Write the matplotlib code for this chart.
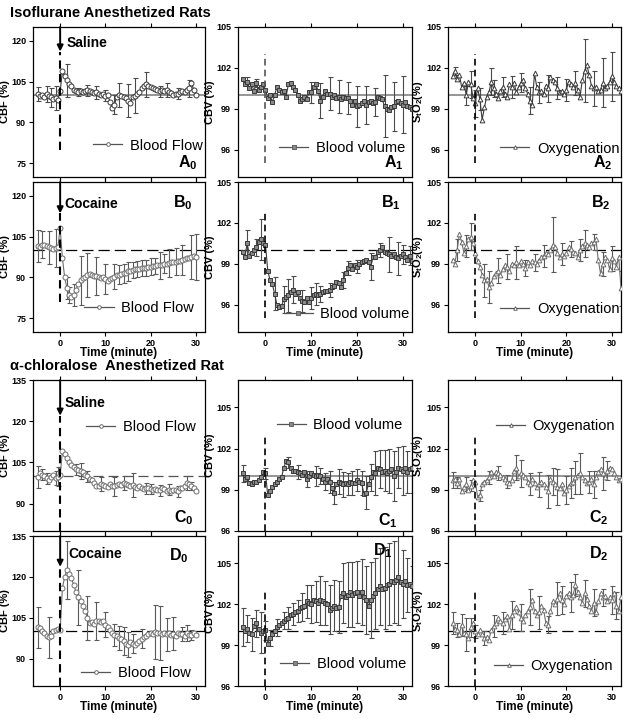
import numpy as np
import matplotlib
matplotlib.use("Agg")
import matplotlib.pyplot as plt
from matplotlib.lines import Line2D

plt.rcParams['font.family'] = ['Liberation Sans', 'DejaVu Sans']
plt.rcParams['mathtext.fontset'] = 'custom'
plt.rcParams['mathtext.rm'] = 'Liberation Sans'
plt.rcParams['mathtext.bf'] = 'Liberation Sans:bold'
plt.rcParams['mathtext.it'] = 'Liberation Sans:italic'

# ---------------- time axes (minutes) ----------------
t_cbf = np.arange(-5, 30.01, 0.5)      # CBF panels
t_opt = np.arange(-5, 32.01, 0.5)      # CBV / StO2 panels

# ---------------- Isoflurane, saline ----------------
A0 = [100.5, 99.8, 100.2, 99.5, 100.5, 99.6, 99.2, 98.6, 99.0, 98.4,
      101.5, 108.8, 107.0, 105.5, 104.2, 103.2, 102.0, 101.5, 101.3, 101.6,
      101.2, 101.5, 101.8, 101.4, 101.0, 100.8, 101.0, 100.5, 100.0, 100.4,
      99.8, 100.2, 97.5, 95.2, 96.5, 99.5, 100.0, 99.8, 99.5, 98.8,
      98.0, 97.0, 99.5, 99.8, 100.5, 101.0, 102.5, 103.5, 104.0, 103.5,
      103.0, 102.6, 102.3, 102.0, 101.5, 102.0, 101.5, 101.8, 101.0, 100.8,
      100.0, 100.4, 100.5, 101.0, 101.5, 101.2, 102.0, 102.5, 104.5, 102.0,
      100.2]
A0_et = [-5, -3, -2, -1, 1.5, 4, 6, 8, 10, 12, 13, 15, 16.5, 19, 22, 23.5, 26, 28.5]
A0_e = [2.5, 3, 3.5, 4.5, 6, 1.5, 2, 2.5, 2, 3.5, 4.5, 6, 6.5, 4.5, 2, 2.5, 2, 3]

A1 = [101.2, 100.8, 101.0, 100.5, 100.8, 100.3, 100.9, 100.4, 100.6, 100.8,
      100.4, 99.8, 100.0, 99.5, 100.0, 100.6, 100.4, 100.2, 100.3, 99.9,
      100.8, 100.9, 100.6, 100.4, 100.0, 99.6, 99.7, 99.9, 99.7, 100.2,
      100.2, 100.6, 100.8, 100.3, 99.6, 99.9, 100.3, 100.1, 100.1, 99.9,
      100.0, 99.8, 99.9, 99.7, 99.9, 99.8, 99.8, 99.6, 99.3, 99.6,
      99.2, 99.3, 99.4, 99.6, 99.3, 99.5, 99.6, 99.4, 99.5, 99.9,
      99.8, 99.7, 99.2, 99.0, 98.9, 99.1, 99.2, 99.5, 99.6, 99.4,
      99.3, 99.5, 99.2, 99.1, 99.0]
A1_et = [-4, -2, 10, 12, 14, 16, 18, 20, 22, 24, 26, 28, 30]
A1_e = [0.3, 0.3, 0.8, 1.3, 1.2, 1.2, 1.2, 1.5, 1.4, 1.0, 2.3, 1.8, 2.1]

A2 = [101.4, 101.8, 101.2, 101.5, 100.6, 100.9, 100.0, 101.0, 100.8, 99.8,
      99.4, 100.5, 99.7, 98.2, 99.1, 99.9, 100.2, 101.0, 100.5, 100.1,
      99.8, 100.3, 100.6, 100.1, 99.9, 100.8, 100.6, 100.9, 100.2, 100.6,
      100.9, 101.1, 100.5, 100.1, 99.6, 99.3, 101.6, 100.6, 100.2, 100.3,
      100.1, 100.7, 100.5, 101.3, 101.1, 101.0, 100.5, 100.2, 100.3, 100.1,
      100.4, 101.0, 100.8, 100.6, 100.9, 100.4, 99.9, 101.1, 101.8, 102.2,
      101.5, 100.7, 100.5, 100.6, 100.3, 100.4, 100.9, 100.5, 100.7, 101.0,
      101.4, 101.0, 100.7, 100.5, 100.3]
A2_et = [-4.5, -2, -1, 0, 1, 3.5, 4, 6, 8, 10, 12, 14, 16, 18, 20, 22, 24, 26, 28, 30]
A2_e = [0.3, 0.7, 1.0, 1.0, 0.8, 1.0, 0.6, 0.7, 0.8, 0.7, 1.0, 0.8, 1.0, 0.8, 0.8, 0.9, 2.3, 1.3, 1.8, 1.8]

# ---------------- Isoflurane, cocaine ----------------
B0 = [101.5, 101.3, 102.0, 101.8, 101.5, 101.0, 100.7, 100.5, 100.8, 101.2,
      108.0, 97.0, 90.0, 86.0, 83.5, 83.0, 83.5, 85.5, 87.5, 89.0,
      89.8, 90.3, 91.0, 91.2, 91.0, 90.5, 90.5, 90.0, 89.8, 90.2,
      89.5, 88.8, 89.5, 89.8, 90.3, 90.8, 91.0, 91.2, 91.5, 91.8,
      92.2, 92.5, 92.8, 93.0, 93.2, 93.0, 93.5, 93.6, 93.4, 93.8,
      94.0, 94.2, 94.3, 94.5, 94.4, 94.6, 95.0, 95.1, 95.3, 95.5,
      95.6, 95.8, 96.0, 96.2, 96.3, 96.6, 97.0, 97.3, 97.6, 97.8,
      97.5]
B0_et = [-5, -4, -2.5, -1, 1.5, 2, 3, 4.5, 6, 8, 10, 12, 13, 14, 15, 16, 17, 18, 19, 20,
         21, 22, 23, 24, 25.5, 27, 29, 30]
B0_e = [5.8, 5, 6, 7, 4, 3, 4, 9, 8, 7, 5.5, 4.5, 3.5, 3.5, 3.5, 3, 3, 3, 3, 3,
        3, 5, 3.5, 5, 5, 5.5, 8, 8.5]

B1 = [99.9, 99.5, 100.5, 99.6, 99.8, 100.0, 100.2, 100.6, 100.8, 100.5,
      100.4, 98.5, 97.8, 97.5, 96.8, 96.0, 95.8, 95.9, 96.4, 96.6,
      96.7, 96.9, 97.1, 96.8, 96.9, 96.5, 96.3, 96.2, 96.5, 96.2,
      96.5, 96.7, 96.8, 96.7, 96.8, 96.9, 97.0, 97.0, 97.1, 97.3,
      97.4, 97.7, 97.6, 97.3, 97.8, 98.3, 98.7, 98.9, 98.6, 98.9,
      98.8, 99.0, 99.1, 99.2, 99.3, 99.1, 98.8, 99.5, 99.5, 99.9,
      100.0, 100.2, 99.9, 99.8, 99.7, 99.6, 99.7, 99.5, 99.4, 99.6,
      99.7, 99.5, 99.3, 99.6, 99.2]
B1_et = [-4, -2, -1, 2, 4, 5, 6, 8, 10, 11, 12, 14, 17, 18, 20, 23, 25, 27, 29, 30, 31.5]
B1_e = [1.0, 0.6, 1.5, 1.2, 1.0, 1.2, 1.0, 0.8, 0.8, 0.8, 0.6, 0.5, 0.6, 0.5, 0.5, 1.0, 0.5, 1.3, 1.2, 0.7, 0.7]

B2 = [99.3, 99.0, 100.0, 101.2, 100.6, 99.8, 100.3, 100.8, 101.0, 100.5,
      99.8, 99.2, 98.8, 98.2, 97.8, 97.9, 97.3, 97.6, 98.1, 98.3,
      98.5, 98.2, 98.6, 98.9, 98.8, 98.5, 99.0, 98.9, 99.1, 98.9,
      99.2, 99.0, 98.7, 99.1, 98.9, 99.2, 99.1, 99.0, 99.3, 99.5,
      99.6, 99.8, 99.7, 100.0, 100.4, 100.2, 99.8, 99.5, 99.7, 99.6,
      99.8, 100.2, 100.1, 99.9, 99.8, 99.5, 100.0, 100.3, 100.5, 100.4,
      100.2, 100.5, 100.6, 100.8, 99.3, 98.3, 99.0, 99.5, 99.3, 98.6,
      99.4, 99.2, 98.8, 99.5, 97.2]
B2_et = [-4, -2, -1, 2, 3, 5, 7, 9, 11, 13, 15, 17, 19, 21, 23, 24, 26, 28, 30, 32]
B2_e = [0.8, 0.8, 1.0, 1.2, 1.2, 0.9, 0.9, 1.2, 0.6, 0.6, 0.8, 2.0, 0.8, 0.6, 0.8, 1.0, 0.6, 0.9, 0.9, 1.3]

# ---------------- alpha-chloralose, saline ----------------
C0 = [99.5, 101.0, 100.5, 100.0, 99.2, 98.5, 99.5, 100.5, 99.2, 99.8,
      100.5, 109.0, 108.2, 106.5, 105.3, 104.0, 103.2, 102.5, 102.2, 101.8,
      101.5, 100.5, 100.0, 99.0, 98.5, 97.5, 96.3, 96.5, 97.0, 96.8,
      96.5, 96.2, 97.0, 96.5, 96.3, 96.7, 97.2, 96.8, 97.6, 97.3,
      96.8, 96.5, 96.8, 96.0, 95.8, 96.3, 95.5, 95.2, 95.6, 95.8,
      95.3, 95.0, 95.4, 95.0, 94.8, 95.5, 95.2, 94.7, 95.0, 94.6,
      95.0, 94.8, 94.5, 95.5, 95.8, 96.5, 97.5, 97.2, 96.5, 95.5,
      94.5]
C0_et = [-5, -4, -3, -1, -0.5, 3.5, 4.5, 6, 9, 12, 14, 16, 19, 20, 22, 24, 26, 28, 29]
C0_e = [4, 2, 2, 2.5, 3.5, 2, 3, 2, 2.5, 3.5, 2.5, 4.5, 2, 2, 2, 2, 2, 2.5, 1.5]

C1 = [100.2, 99.8, 99.9, 99.5, 99.4, 99.6, 99.6, 99.7, 99.9, 100.3,
      100.2, 98.6, 98.9, 99.2, 99.4, 99.6, 99.8, 99.9, 100.6, 101.1,
      101.0, 100.6, 100.4, 100.4, 100.3, 100.2, 100.1, 100.3, 99.8, 100.0,
      100.2, 100.1, 100.0, 100.1, 100.0, 99.8, 99.6, 99.8, 99.6, 99.1,
      98.8, 99.4, 99.6, 99.5, 99.4, 99.5, 99.4, 99.6, 99.5, 99.5,
      99.7, 99.6, 99.5, 98.7, 98.8, 99.4, 99.9, 100.3, 100.2, 100.6,
      100.5, 100.3, 100.4, 100.2, 100.4, 100.5, 100.0, 100.3, 100.6, 100.5,
      100.4, 100.6, 100.3, 100.5, 100.6]
C1_et = [-5, 0, 5, 7, 9, 11, 12, 13, 14, 15, 16, 17, 18, 19, 20, 21, 22, 23, 24, 25,
         26, 27, 28, 29, 30, 31, 32]
C1_e = [0.6, 0.4, 0.4, 0.5, 0.6, 0.7, 0.6, 0.6, 0.8, 0.8, 0.9, 0.9, 0.8, 0.9, 0.8,
        0.9, 1.2, 1.0, 1.6, 1.4, 1.5, 1.6, 1.8, 1.5, 1.8, 1.5, 1.8]

C2 = [99.7, 99.8, 99.5, 99.8, 98.9, 99.2, 99.4, 99.0, 99.3, 99.7,
      99.6, 98.5, 98.6, 99.4, 99.6, 99.7, 99.9, 100.3, 100.0, 100.3,
      100.2, 100.1, 99.9, 99.8, 99.6, 99.5, 99.7, 100.4, 100.6, 100.0,
      100.2, 100.1, 99.9, 99.6, 99.4, 99.8, 99.5, 99.2, 99.4, 99.6,
      99.4, 99.2, 98.9, 99.8, 99.6, 99.4, 99.2, 99.1, 99.4, 98.8,
      99.0, 99.3, 99.5, 99.6, 99.9, 100.1, 100.2, 99.9, 99.7, 99.5,
      99.6, 99.8, 99.4, 99.9, 100.3, 100.5, 100.2, 99.9, 100.4, 100.6,
      100.5, 100.2, 99.9, 99.7, 99.8]
C2_et = [-5, -4, -2, -1, 1, 3, 5, 7, 9, 10, 12, 14, 16, 17, 18, 20, 21, 22, 23, 25, 26, 28, 29]
C2_e = [0.6, 0.4, 0.5, 0.4, 0.4, 0.5, 0.5, 0.5, 0.9, 1.0, 0.8, 0.9, 1.2, 1.0, 1.3, 1.0,
        1.1, 1.2, 1.5, 0.8, 1.0, 1.2, 0.7]

# ---------------- alpha-chloralose, cocaine ----------------
D0 = [101.5, 101.2, 100.2, 99.5, 98.5, 97.8, 98.5, 100.0, 100.5, 101.0,
      100.5, 116.0, 120.0, 122.5, 121.0, 119.5, 117.0, 114.5, 112.5, 111.0,
      109.5, 107.5, 105.0, 103.0, 103.5, 102.8, 103.8, 104.0, 103.5, 103.8,
      102.5, 101.5, 100.5, 99.5, 98.8, 98.2, 97.6, 97.2, 96.5, 95.5,
      95.2, 96.0, 95.5, 95.2, 95.8, 96.5, 97.3, 97.8, 98.5, 99.2,
      99.5, 99.0, 99.8, 99.3, 99.5, 99.0, 99.5, 98.9, 99.4, 98.8,
      99.2, 98.5, 99.6, 99.2, 99.0, 98.5, 99.5, 98.8, 98.7, 99.3,
      98.8]
D0_et = [-5, -2.5, 1.5, 4, 6, 8, 10, 12, 13, 14, 15, 16, 18, 21, 22, 23.5, 25, 27, 28, 29]
D0_e = [7.5, 7.5, 10.5, 10, 8, 7, 4.5, 4, 4.5, 5, 4.5, 3.5, 3.5, 10, 10, 6, 6, 2.5, 3, 2]

D1 = [100.3, 100.0, 100.2, 99.9, 99.8, 100.4, 100.6, 100.2, 99.9, 100.0,
      100.1, 99.1, 99.5, 99.8, 100.0, 100.3, 100.5, 100.6, 100.8, 100.9,
      101.0, 101.2, 101.3, 101.4, 101.5, 101.7, 101.8, 101.9, 102.2, 102.1,
      102.0, 102.3, 102.2, 102.1, 102.3, 102.2, 102.1, 102.0, 101.6, 101.7,
      101.9, 101.7, 101.8, 102.6, 102.8, 102.5, 102.7, 102.9, 102.7, 102.8,
      102.9, 102.6, 102.9, 102.5, 102.3, 101.9, 102.3, 102.6, 102.8, 103.1,
      103.3, 103.1, 103.2, 103.4, 103.5, 103.7, 103.6, 103.8, 104.0, 103.6,
      103.5, 103.7, 103.4, 103.5, 103.3]
D1_et = [-5, -4, -3, -2, -1, 0, 1, 2.5, 4, 5, 6, 7, 8, 9, 10, 11, 12, 13, 14, 15,
         16, 17, 18, 19, 20, 21, 22, 23, 24, 25, 26, 27, 28, 29, 30, 31, 32]
D1_e = [1.4, 1.0, 1.2, 1.0, 1.5, 0.7, 0.6, 0.6, 0.6, 0.8, 0.8, 0.8, 1.0, 1.2, 1.4, 1.5,
        1.8, 1.6, 1.8, 1.9, 1.9, 2.2, 2.4, 2.4, 2.3, 2.4, 2.5, 2.8, 2.6, 2.8, 3.0, 3.0,
        3.0, 3.5, 2.5, 2.0, 1.5]

D2 = [100.6, 100.2, 100.1, 99.8, 100.5, 99.9, 99.8, 99.5, 100.3, 100.6,
      100.0, 99.8, 100.1, 99.8, 99.5, 99.6, 99.4, 100.1, 100.4, 100.6,
      101.0, 100.8, 100.6, 100.9, 101.1, 100.2, 101.2, 101.5, 101.8, 101.4,
      101.0, 100.8, 101.2, 101.5, 101.8, 102.3, 101.5, 101.2, 101.4, 101.9,
      101.6, 100.6, 100.5, 101.5, 102.2, 102.0, 102.4, 102.8, 102.3, 102.0,
      102.6, 102.8, 102.5, 102.7, 103.4, 102.9, 102.5, 102.1, 102.8, 102.4,
      101.9, 101.5, 102.1, 101.4, 102.2, 102.8, 102.5, 102.6, 102.2, 102.5,
      102.3, 102.8, 101.9, 101.5, 102.5]
D2_et = [-5, -4, -3, -2, -1, 0, 2, 4, 6, 8, 10, 12, 14, 16, 18, 19, 21, 22, 24, 26, 28, 30, 31]
D2_e = [0.8, 0.5, 0.8, 1.2, 0.7, 0.5, 0.5, 0.8, 0.8, 1.0, 1.0, 1.3, 1.2, 0.6, 1.2, 1.0,
        1.1, 0.8, 1.0, 1.0, 0.6, 1.0, 1.0]

ylabels = ['CBF (%)', 'CBV (%)', r'S$_\mathbf{t}$O$_\mathbf{2}$(%)']
legend_labels = ['Blood Flow', 'Blood volume', 'Oxygenation']
row_letters = ['A', 'B', 'C', 'D']
drugs = ['Saline', 'Cocaine', 'Saline', 'Cocaine']
titles = ['Isoflurane Anesthetized Rats', u'\u03b1-chloralose  Anesthetized Rat']

# ---------------- layout ----------------
W, H = 629, 719
fig = plt.figure(figsize=(W / 100, H / 100), dpi=100)
cols_px = [(33, 205), (238, 412), (448, 621)]
rows_px = [(27, 177), (182, 332), (380, 531), (536, 686)]


def rect(c, r):
    l, rr = cols_px[c]
    tp, bt = rows_px[r]
    return [l / W, 1 - bt / H, (rr - l) / W, (bt - tp) / H]


data = [[(A0, A0_et, A0_e), (A1, A1_et, A1_e), (A2, A2_et, A2_e)],
        [(B0, B0_et, B0_e), (B1, B1_et, B1_e), (B2, B2_et, B2_e)],
        [(C0, C0_et, C0_e), (C1, C1_et, C1_e), (C2, C2_et, C2_e)],
        [(D0, D0_et, D0_e), (D1, D1_et, D1_e), (D2, D2_et, D2_e)]]

ylims = {0: [(70, 125), (94, 105), (94, 105)], 1: [(70, 125), (94, 105), (94, 105)],
         2: [(80, 135), (96, 107), (96, 107)], 3: [(80, 135), (96, 107), (96, 107)]}
yticks = {0: [75, 90, 105, 120], 1: [96, 99, 102, 105]}
yticks2 = {0: [90, 105, 120, 135], 1: [96, 99, 102, 105]}

vline = {0: [(80, 116), (95, 103), (95, 103)], 1: [(81, 113.5), (95, 102.8), (95, 102.8)],
         2: [(80, 122), (96, 103), (96, 103)], 3: [(80, 123.7), (96, 103), (96, 103)]}
drug_xy = [(1.5, 119), (1.0, 117), (1.0, 126.5), (1.8, 128.5)]

# legend anchors (axes fraction: right x, center y)
leg_pos = [[(0.985, 0.21), (0.96, 0.19), (0.99, 0.19)],
           [(0.935, 0.16), (0.985, 0.12), (0.99, 0.15)],
           [(0.945, 0.69), (0.945, 0.70), (0.965, 0.695)],
           [(0.915, 0.087), (0.965, 0.147), (0.955, 0.133)]]
lab_pos = [[(0.955, 0.093), (0.95, 0.093), (0.95, 0.093)],
           [(0.925, 0.865), (0.935, 0.86), (0.94, 0.865)],
           [(0.935, 0.09), (0.915, 0.07), (0.925, 0.09)],
           [(0.905, 0.87), (0.89, 0.9), (0.925, 0.885)]]

markers = ['o', 's', '^']
msizes = [3.6, 2.8, 3.4]

for r in range(4):
    for c in range(3):
        ax = fig.add_axes(rect(c, r))
        y, et, ee = data[r][c]
        t = t_cbf if c == 0 else t_opt
        y = np.asarray(y)
        dark = (r == 0) or (c == 1)
        col = '#3a3a3a' if dark else '#6e6e6e'
        mfc = '#8a8a8a' if c == 1 else 'white'

        # reference lines
        if r == 0 or (r == 2 and c > 0):
            ax.axhline(100, color='#8c8c8c', lw=1.3, zorder=1)
        elif r == 2 and c == 0:
            ax.axhline(100, color='#555555', lw=0.9, ls=(0, (8, 4)), zorder=1)
        else:
            ax.axhline(100, color='black', lw=0.9, ls=(0, (9, 4)), zorder=1)
        v0, v1 = vline[r][c]
        vcol = '#555555' if (r == 0 and c == 1) else 'black'
        ax.plot([0, 0], [v0, v1], color=vcol, lw=1.5 if c == 0 else 1.2,
                ls=(0, (4, 2.5)), zorder=4)

        # error bars
        idx = np.round((np.asarray(et) - t[0]) / 0.5).astype(int)
        ax.errorbar(np.asarray(et), y[idx], yerr=np.asarray(ee), fmt='none',
                    ecolor='#4a4a4a' if dark else '#5a5a5a', elinewidth=0.8,
                    capsize=1.8, capthick=0.8, zorder=2)
        # series
        ax.plot(t, y, color=col, lw=0.8, marker=markers[c], ms=msizes[c],
                mfc=mfc, mec=col, mew=0.7, zorder=3)

        ax.set_xlim(-6, 32)
        ax.set_ylim(*ylims[r][c])
        if c == 0:
            ax.set_yticks(yticks[0] if r < 2 else yticks2[0])
        else:
            ax.set_yticks(yticks[1])
        ax.set_xticks([0, 10, 20, 30])
        ax.tick_params(axis='both', which='both', direction='out', length=3,
                       width=0.8, labelsize=6.5, pad=2, top=True)
        for lab in ax.get_yticklabels() + ax.get_xticklabels():
            lab.set_fontweight('bold')
        if r in (1, 3):
            ax.set_xlabel('Time (minute)', fontsize=8.5, fontweight='bold', labelpad=-1)
        else:
            ax.tick_params(axis='x', labelbottom=False)
        ax.set_ylabel(ylabels[c], fontsize=8, fontweight='bold', labelpad=1)
        for sp in ax.spines.values():
            sp.set_linewidth(0.9)

        # arrow + drug label
        if c == 0:
            top = ylims[r][c][1]
            ax.annotate('', xy=(0, v1), xytext=(0, top),
                        arrowprops=dict(arrowstyle='-|>', color='black', lw=1.4,
                                        mutation_scale=9, shrinkA=0, shrinkB=0),
                        zorder=5)
            ax.text(drug_xy[r][0], drug_xy[r][1], drugs[r], fontsize=10,
                    fontweight='bold', va='center', ha='left')

        # legend
        h = Line2D([0], [0], color='#555555', lw=0.9, marker=markers[c], ms=2.6,
                   mfc='white' if c != 1 else '#888888', mec='#555555', mew=0.6)
        lx, ly = leg_pos[r][c]
        ax.legend([h], [legend_labels[c]], loc='center right', bbox_to_anchor=(lx, ly),
                  frameon=False, fontsize=10.5, handlelength=2.0, handletextpad=0.5,
                  borderpad=0, borderaxespad=0)

        # panel label
        px, py = lab_pos[r][c]
        ax.text(px, py, r'$\mathbf{%s_{%d}}$' % (row_letters[r], c), transform=ax.transAxes,
                ha='right', va='center', fontsize=11.5)

fig.text(10 / W, 1 - 13 / H, titles[0], fontsize=10.5, fontweight='bold',
         ha='left', va='center')
fig.text(10 / W, 1 - 366 / H, titles[1], fontsize=10.5, fontweight='bold',
         ha='left', va='center')

fig.savefig('out.png', dpi=100)
